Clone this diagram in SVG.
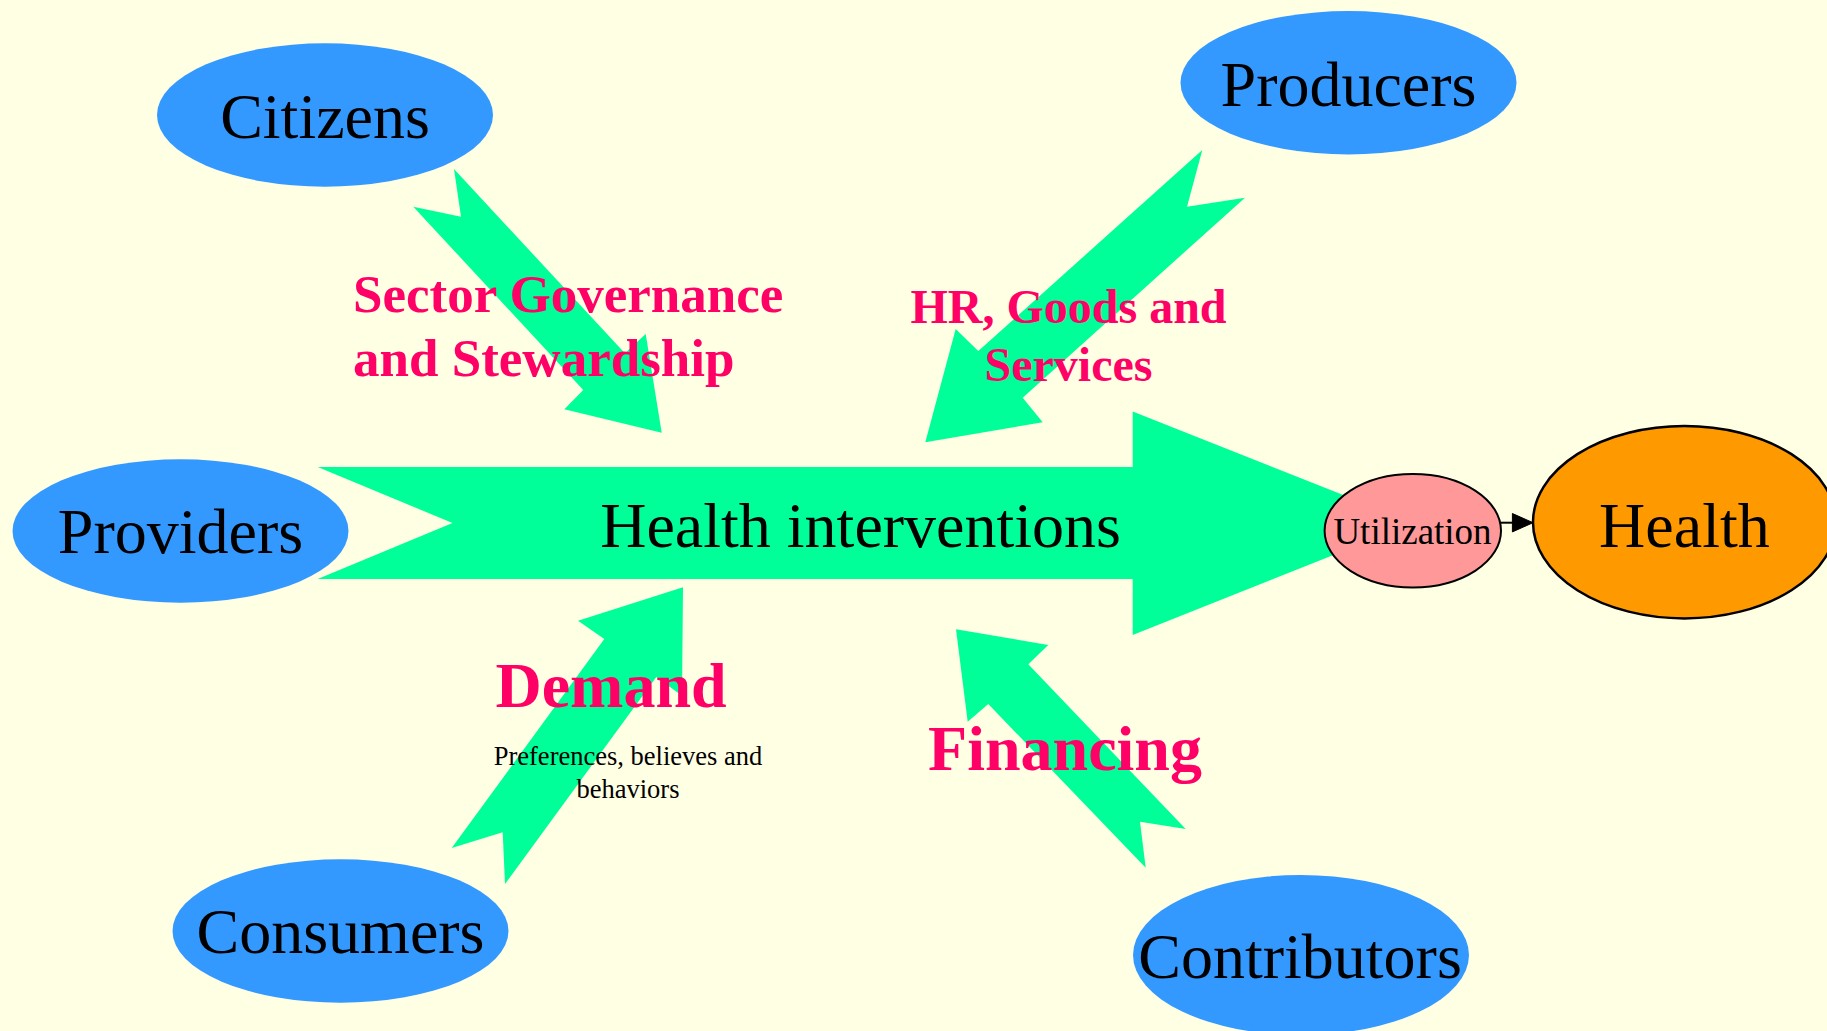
<svg xmlns="http://www.w3.org/2000/svg" width="1827" height="1031" viewBox="0 0 1827 1031">
<style>
.txt{font-family:"Liberation Serif","Times New Roman",serif;fill:#000}
.big{font-size:64px}
.actor{fill:#3399FF}
.flow{fill:#00FF99}
.lbl{font-family:"Liberation Serif","Times New Roman",serif;font-weight:bold;fill:#FF0066}
.mid{text-anchor:middle}
</style>
<rect x="0" y="0" width="1827" height="1031" fill="#FFFFE3"/>
<g id="connectors">
  <g id="edge-citizens">
    <polygon class="flow" points="454,169 624.9,353.3 645.7,334 661.7,432.7 564.3,409.3 583.3,390 413.3,206.7 461,216.7"/>
    <text class="lbl" font-size="53" x="353" y="311.7">Sector Governance</text>
    <text class="lbl" font-size="53" x="353" y="375.5">and Stewardship</text>
  </g>
  <g id="edge-producers">
    <polygon class="flow" points="1202.3,150 1187,206.7 1245,197.7 1022.7,397.7 1042.7,422.3 925.3,442.3 955.7,329 978.3,351"/>
    <text class="lbl mid" font-size="48" x="1068.5" y="322.7">HR, Goods and</text>
    <text class="lbl mid" font-size="48" x="1068.5" y="380.7">Services</text>
  </g>
  <g id="edge-consumers">
    <polygon class="flow" points="683,587.3 682,695.7 656.3,677 505,884 502.7,832.3 451.7,848 604.3,639 578,620.7"/>
    <text class="lbl mid" font-size="64" x="611" y="706.7">Demand</text>
    <text class="txt mid" font-size="26.5" x="628" y="765">Preferences, believes and</text>
    <text class="txt mid" font-size="26.5" x="628" y="798">behaviors</text>
  </g>
  <g id="edge-contributors">
    <polygon class="flow" points="956,629.3 1048.3,645 1028.3,664.3 1185.7,829 1140,821.7 1145.7,867.7 988.3,704 967.7,721.7"/>
    <text class="lbl mid" font-size="64" x="1065" y="770">Financing</text>
  </g>
  <g id="edge-utilization-health">
    <line x1="1501" y1="522.7" x2="1514" y2="522.7" stroke="#000" stroke-width="2"/>
    <polygon points="1512.4,513.5 1533,522.7 1512.4,531.9" fill="#000" stroke="#000" stroke-width="1"/>
  </g>
</g>
<g id="node-health-interventions">
  <polygon class="flow" points="317.7,467 1132.7,467 1132.7,411.5 1414,523 1132.7,635 1132.7,579 317.7,579 452.5,523"/>
  <text class="txt big mid" x="860.6" y="546.7">Health interventions</text>
</g>
<g id="node-citizens">
  <ellipse class="actor" cx="325" cy="115" rx="168" ry="71.7"/>
  <text class="txt big mid" x="325" y="138.3">Citizens</text>
</g>
<g id="node-producers">
  <ellipse class="actor" cx="1348.5" cy="82.7" rx="168" ry="71.7"/>
  <text class="txt big mid" x="1348.5" y="106">Producers</text>
</g>
<g id="node-providers">
  <ellipse class="actor" cx="180.5" cy="531" rx="168" ry="71.7"/>
  <text class="txt big mid" x="180.5" y="553.3">Providers</text>
</g>
<g id="node-consumers">
  <ellipse class="actor" cx="340.5" cy="931" rx="168" ry="71.7"/>
  <text class="txt big mid" x="340.5" y="953.3">Consumers</text>
</g>
<g id="node-contributors">
  <ellipse class="actor" cx="1301" cy="955" rx="168" ry="80"/>
  <text class="txt big mid" x="1300" y="978.3">Contributors</text>
</g>
<g id="node-utilization">
  <ellipse cx="1412.8" cy="530.7" rx="88.2" ry="56.7" fill="#FF9999" stroke="#000" stroke-width="2"/>
  <text class="txt mid" font-size="37" x="1412.5" y="544.3">Utilization</text>
</g>
<g id="node-health">
  <ellipse cx="1684.4" cy="522.2" rx="151.4" ry="96.2" fill="#FF9900" stroke="#000" stroke-width="2.5"/>
  <text class="txt big mid" x="1684.4" y="546.7">Health</text>
</g>
</svg>
